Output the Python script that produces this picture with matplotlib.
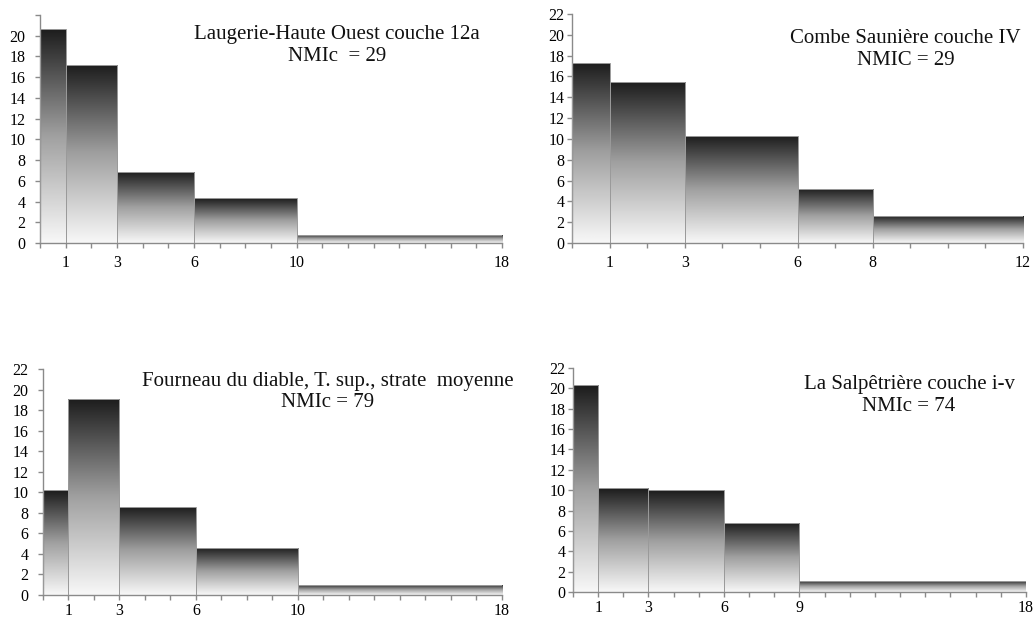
import numpy as np
import matplotlib
matplotlib.use("Agg")
import matplotlib.pyplot as plt
from matplotlib.colors import LinearSegmentedColormap

# bin edges and heights per site
lh_edges = [0, 1, 3, 6, 10, 18]
lh_vals = [20.7, 17.2, 6.9, 4.3, 0.8]
lh_labels = [1, 3, 6, 10, 18]

cs_edges = [0, 1, 3, 6, 8, 12]
cs_vals = [17.3, 15.5, 10.3, 5.2, 2.6]
cs_labels = [1, 3, 6, 8, 12]

fd_edges = [0, 1, 3, 6, 10, 18]
fd_vals = [10.2, 19.1, 8.6, 4.6, 1.0]
fd_labels = [1, 3, 6, 10, 18]

sa_edges = [0, 1, 3, 6, 9, 18]
sa_vals = [20.3, 10.2, 10.0, 6.8, 1.1]
sa_labels = [1, 3, 6, 9, 18]

titles = [
    "Laugerie-Haute Ouest couche 12a\nNMIc  = 29",
    "Combe Saunière couche IV\nNMIC = 29",
    "Fourneau du diable, T. sup., strate  moyenne\nNMIc = 79",
    "La Salpêtrière couche i-v\nNMIc = 74",
]

plt.rcParams["font.family"] = ["Liberation Serif", "DejaVu Serif"]

grad_cmap = LinearSegmentedColormap.from_list("g", ["#f8f8f8", "#a0a0a0", "#1c1c1c"])
grad = np.linspace(0, 1, 256).reshape(-1, 1)

fig = plt.figure(figsize=(10.35, 6.19), dpi=100, facecolor="white")

# [left, bottom, width, height], title position (axes fraction), show 22 label, y pad, x pad
panels = [
    (lh_edges, lh_vals, lh_labels, [0.0386, 0.6074, 0.4464, 0.3683], (0.643, 0.866), False, 7, 5),
    (cs_edges, cs_vals, cs_labels, [0.5527, 0.6074, 0.4357, 0.3700], (0.740, 0.845), True, 2, 5),
    (fd_edges, fd_vals, fd_labels, [0.0415, 0.0388, 0.4435, 0.3650], (0.620, 0.898), True, 7, 2),
    (sa_edges, sa_vals, sa_labels, [0.5536, 0.0436, 0.4377, 0.3620], (0.742, 0.877), True, 2, 2),
]

for (edges, vals, labels, rect, tpos, show22, ypad, xpad), title in zip(panels, titles):
    ax = fig.add_axes(rect)
    edges = np.array(edges, dtype=float)
    widths = np.diff(edges)
    bars = ax.bar(edges[:-1], vals, width=widths, align="edge",
                  facecolor="none", edgecolor="#9a9a9a", linewidth=0.7, zorder=3)
    for b, x0, w, h in zip(bars, edges[:-1], widths, vals):
        im = ax.imshow(grad, cmap=grad_cmap, aspect="auto", origin="lower",
                       extent=(x0, x0 + w, 0, h), zorder=2, interpolation="bilinear")
        im.set_clip_path(b)

    xmax = edges[-1]
    ax.set_xlim(0, xmax)
    ax.set_ylim(0, 22)
    ax.set_xticks(np.arange(0, xmax + 1))
    ax.set_xticklabels([str(int(t)) if int(t) in labels else "" for t in np.arange(0, xmax + 1)])
    yt = np.arange(0, 23, 2)
    ax.set_yticks(yt)
    ax.set_yticklabels([str(t) if (t != 22 or show22) else "" for t in yt])

    for s in ["top", "right"]:
        ax.spines[s].set_visible(False)
    for s in ["left", "bottom"]:
        ax.spines[s].set_color("#8a8a8a")
        ax.spines[s].set_linewidth(1.0)
    ax.tick_params(axis="both", direction="out", length=3.5, width=1.0,
                   color="#8a8a8a", labelsize=11.5)
    ax.tick_params(axis="y", pad=ypad)
    ax.tick_params(axis="x", pad=xpad)

    ax.text(tpos[0], tpos[1], title, transform=ax.transAxes, ha="center", va="center",
            fontsize=15, linespacing=1.2, color="#111111", zorder=5)

fig.savefig("out.png", dpi=100, facecolor="white")
